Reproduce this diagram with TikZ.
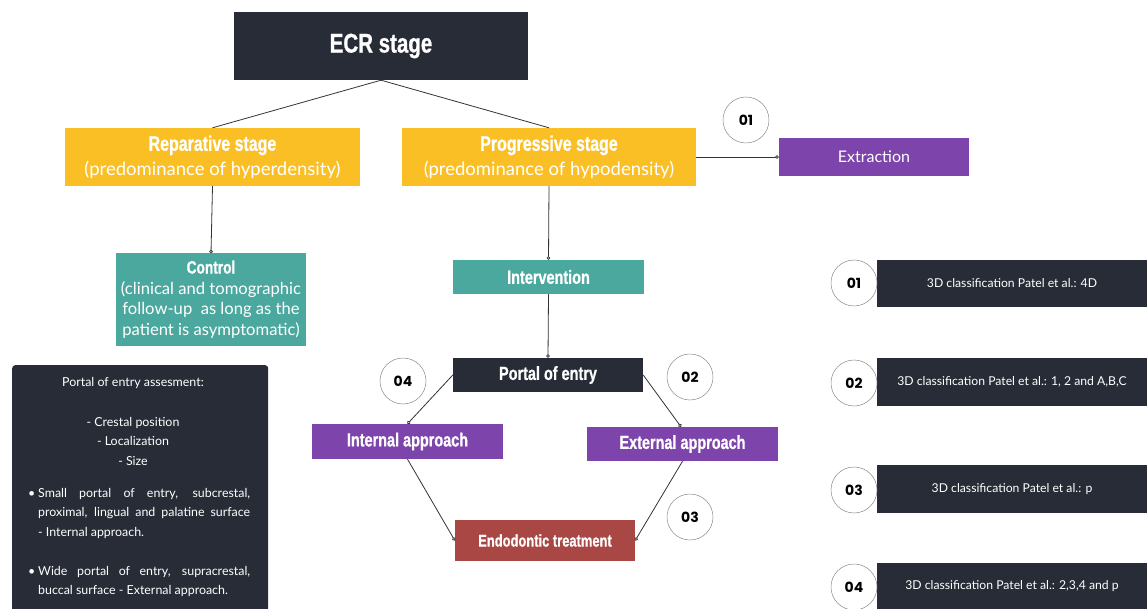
\documentclass[tikz,border=0pt]{standalone}
\usepackage{fontspec}
\setmainfont{Lato}
\newfontfamily\headfont[FakeStretch=0.76,FakeBold=0.8]{Liberation Sans}
\newfontfamily\numfont{Poppins}
\usetikzlibrary{arrows.meta}
\definecolor{darkbg}{HTML}{272C36}
\definecolor{yel}{HTML}{FBBF26}
\definecolor{tealc}{HTML}{4AA89F}
\definecolor{purp}{HTML}{7D45AB}
\definecolor{redd}{HTML}{A84744}
\tikzset{
  box/.style={rectangle, inner sep=0pt, text=white, align=center},
  head/.style={font=\headfont\bfseries\fontsize{19}{22}\selectfont},
  conn/.style={draw=black!80, line width=0.8pt},
  ctip/.style={conn, -{Circle[open,length=3.6pt,width=3.6pt,fill=white]}},
  numc/.style={circle, draw=black!45, line width=0.5pt, fill=white, minimum size=46pt, inner sep=0pt,
    font=\numfont\bfseries\fontsize{14}{14}\selectfont},
  rbox/.style={rectangle, fill=darkbg, text=white, inner sep=0pt, minimum width=270pt, minimum height=48pt,
    font=\fontsize{12.2}{14}\selectfont},
}
\newcommand{\hd}[1]{{\headfont\bfseries #1}}
\begin{document}
\begin{tikzpicture}[x=1pt,y=-1pt]
\useasboundingbox[fill=white] (0,0) rectangle (1147,609);

% main boxes
\node[box, fill=darkbg, minimum width=294pt, minimum height=68pt,
  font=\headfont\bfseries\fontsize{27}{30}\selectfont] (ecr) at (381,46) {ECR stage};
\node[box, fill=yel, minimum width=295pt, minimum height=58pt, font=\fontsize{18.5}{24.5}\selectfont] (rep) at (212.5,157)
  {\hd{\fontsize{21}{22}\selectfont Reparative stage}\\(predominance of hyperdensity)};
\node[box, fill=yel, minimum width=294pt, minimum height=58pt, font=\fontsize{18.5}{24.5}\selectfont] (prog) at (549,157)
  {\hd{\fontsize{21}{22}\selectfont Progressive stage}\\(predominance of hypodensity)};
\node[box, fill=tealc, minimum width=190pt, minimum height=92pt, font=\fontsize{16.6}{20.7}\selectfont] (ctrl) at (211,299.5)
  {\hd{\fontsize{18}{20}\selectfont Control}\\(clinical and tomographic\\follow-up\ \ as long as the\\patient is asymptomatic)};
\node[box, fill=tealc, minimum width=191pt, minimum height=34pt, head] (interv) at (548.5,277) {Intervention};
\node[box, fill=purp, minimum width=190pt, minimum height=38pt, font=\fontsize{16}{18}\selectfont] (extr) at (874,157) {Extraction};
\node[box, fill=darkbg, minimum width=190pt, minimum height=34pt, head] (portal) at (548,375) {Portal of entry};
\node[box, fill=purp, minimum width=191pt, minimum height=35pt, head] (intap) at (407.5,441.5) {Internal approach};
\node[box, fill=purp, minimum width=191pt, minimum height=34pt, head] (extap) at (682.5,444) {External approach};
\node[box, fill=redd, minimum width=180pt, minimum height=41pt, font=\headfont\bfseries\fontsize{17}{20}\selectfont] (endo) at (545,540.5) {Endodontic treatment};

% connectors
\draw[conn] (ecr.south) -- (rep.north);
\draw[conn] (ecr.south) -- (prog.north);
\draw[ctip] (rep.south) -- (ctrl.north);
\draw[ctip] (prog.south) -- (interv.north);
\draw[ctip] (prog.east) -- (extr.west);
\draw[ctip] (interv.south) -- (portal.north);
\draw[ctip] (portal.west) -- (intap.north);
\draw[ctip] (portal.east) -- ([xshift=-1.5pt]extap.north);
\draw[ctip] (intap.south) -- (endo.west);
\draw[ctip] (extap.south) -- (endo.east);

% number circles
\node[numc] (c01) at (746,120) {01};
\node[numc] (c04) at (403,381) {04};
\node[numc] (c02) at (690,377) {02};
\node[numc] (c03) at (690,517) {03};

% right classification boxes
\node[rbox, minimum height=47pt] (r1) at (1012,283.5) {3D classification Patel et al.: 4D};
\node[rbox] (r2) at (1012,382) {3D classification Patel et al.: 1, 2 and A,B,C};
\node[rbox] (r3) at (1012,489) {3D classification Patel et al.: p};
\node[rbox, minimum height=46pt] (r4) at (1012,586) {3D classification Patel et al.: 2,3,4 and p};
\node[numc] (n1) at (854,283) {01};
\node[numc] (n2) at (854,383) {02};
\node[numc] (n3) at (854,490) {03};
\node[numc] (n4) at (854,587) {04};

% left assessment box
\node[rectangle, rounded corners=3pt, fill=darkbg, minimum width=256pt, minimum height=250pt, anchor=north west, inner sep=0pt] (lbox) at (12,365) {};
\node[text=white, font=\fontsize{12.4}{13}\selectfont] (lt) at (133,383) {Portal of entry assesment:};
\node[text=white, align=center, font=\fontsize{12.4}{19.5}\selectfont] (ll) at (133,441) {- Crestal position\\- Localization\\- Size};
\node[text=white, inner sep=0pt, anchor=north west, font=\fontsize{12.4}{19.5}\selectfont] (lb1) at (28,488)
  {\parbox{222pt}{\hangindent=10pt\hangafter=1\noindent\makebox[10pt][l]{•}Small portal of entry, subcrestal,\linebreak proximal, lingual and palatine surface\linebreak - Internal approach.}};
\node[text=white, inner sep=0pt, anchor=north west, font=\fontsize{12.4}{19.5}\selectfont] (lb2) at (28,566)
  {\parbox{222pt}{\hangindent=10pt\hangafter=1\noindent\makebox[10pt][l]{•}Wide portal of entry, supracrestal,\linebreak buccal surface - External approach.}};
\end{tikzpicture}
\end{document}
